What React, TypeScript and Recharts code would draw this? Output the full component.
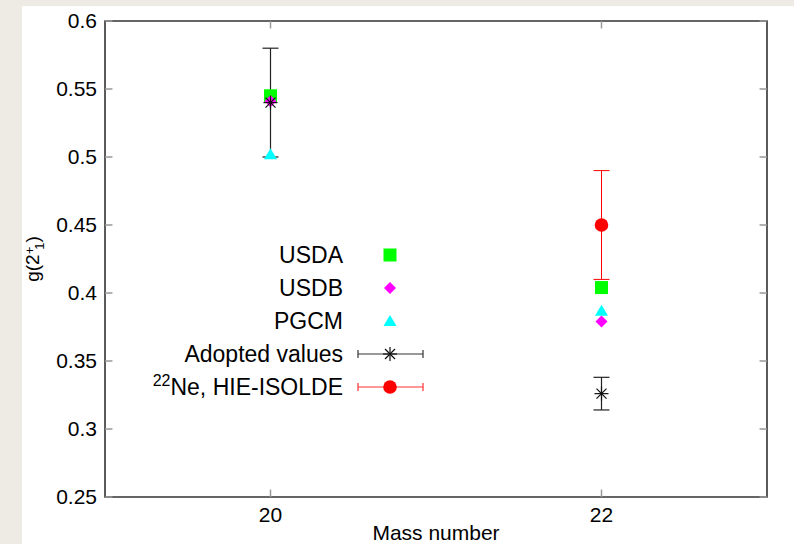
import React from 'react';
import {
  ComposedChart,
  ErrorBar,
  Legend,
  ReferenceArea,
  ReferenceLine,
  Scatter,
  XAxis,
  YAxis
} from 'recharts';

const FONT = '"Liberation Sans", Arial, Helvetica, sans-serif';

const massNumbers = [20, 22];
const usdaValues = [0.545, 0.404];
const usdbValues = [0.541, 0.379];
const pgcmValues = [0.502, 0.387];
const adoptedValues = [0.54, 0.326];
const adoptedErrors = [0.04, 0.012];
const hieMass = [22];
const hieValues = [0.45];
const hieErrors = [0.04];

const xTicks = [20, 22];
const yTicks = [0.25, 0.3, 0.35, 0.4, 0.45, 0.5, 0.55, 0.6];
const xDomain: [number, number] = [19, 23];
const yDomain: [number, number] = [0.25, 0.6];

const seriesNames = ['USDA', 'USDB', 'PGCM', 'Adopted values', '22Ne, HIE-ISOLDE'];

const toPoints = (xs: number[], ys: number[], errs?: number[]) =>
  xs.map((a, i) => ({ a, g: ys[i], err: errs ? errs[i] : 0 }));

const usdaData = toPoints(massNumbers, usdaValues);
const usdbData = toPoints(massNumbers, usdbValues);
const pgcmData = toPoints(massNumbers, pgcmValues);
const adoptedData = toPoints(massNumbers, adoptedValues, adoptedErrors);
const hieData = toPoints(hieMass, hieValues, hieErrors);

// inward tick marks, gnuplot style
const TX = 0.045;
const TY = 0.0055;

function Square({ cx, cy }: any) {
  return <rect x={cx - 6.5} y={cy - 6.5} width={13} height={13} fill="#00ff00" />;
}
function Diamond({ cx, cy }: any) {
  return <polygon points={`${cx},${cy - 6} ${cx + 6},${cy} ${cx},${cy + 6} ${cx - 6},${cy}`} fill="#ff00ff" />;
}
function Triangle({ cx, cy }: any) {
  return <polygon points={`${cx},${cy - 6} ${cx + 6.5},${cy + 5} ${cx - 6.5},${cy + 5}`} fill="#00ffff" />;
}
function Star({ cx, cy }: any) {
  const r = 7;
  const d = 5;
  return (
    <g stroke="#111" strokeWidth={1.2}>
      <line x1={cx - r} y1={cy} x2={cx + r} y2={cy} />
      <line x1={cx} y1={cy - r} x2={cx} y2={cy + r} />
      <line x1={cx - d} y1={cy - d} x2={cx + d} y2={cy + d} />
      <line x1={cx - d} y1={cy + d} x2={cx + d} y2={cy - d} />
    </g>
  );
}
function Dot({ cx, cy }: any) {
  return <circle cx={cx} cy={cy} r={6.8} fill="#ff0000" />;
}

const symbolFor: Record<string, any> = {
  USDA: Square,
  USDB: Diamond,
  PGCM: Triangle,
  'Adopted values': Star,
  '22Ne, HIE-ISOLDE': Dot
};

function LegendBox({ payload }: any) {
  const items = (payload || []).filter((p: any) => seriesNames.includes(p.value));
  items.sort((a: any, b: any) => seriesNames.indexOf(a.value) - seriesNames.indexOf(b.value));
  return (
    <svg width={440} height={175} style={{ display: 'block' }}>
      {items.map((p: any, i: number) => {
        const cy = 23 + i * 33;
        const Sym = symbolFor[p.value];
        const withBar = p.value === 'Adopted values' || p.value === '22Ne, HIE-ISOLDE';
        const col = p.value === '22Ne, HIE-ISOLDE' ? '#ff3030' : '#333';
        return (
          <g key={p.value}>
            {p.value === '22Ne, HIE-ISOLDE' ? (
              <text x={321} y={cy + 8} textAnchor="end" fontFamily={FONT} fontSize={23} fill="#000">
                <tspan fontSize={16} dy={-9}>22</tspan>
                <tspan dy={9}>Ne, HIE-ISOLDE</tspan>
              </text>
            ) : (
              <text x={321} y={cy + 8} textAnchor="end" fontFamily={FONT} fontSize={23} fill="#000">
                {p.value}
              </text>
            )}
            {withBar && (
              <g stroke={col} strokeWidth={1.2}>
                <line x1={336} y1={cy} x2={401} y2={cy} />
                <line x1={336} y1={cy - 4} x2={336} y2={cy + 4} />
                <line x1={401} y1={cy - 4} x2={401} y2={cy + 4} />
              </g>
            )}
            {Sym && <Sym cx={368} cy={cy} />}
          </g>
        );
      })}
    </svg>
  );
}

function YLabel({ viewBox }: any) {
  const x = (viewBox?.x ?? 0) + 17;
  const y = (viewBox?.y ?? 0) + (viewBox?.height ?? 0) / 2;
  return (
    <text x={x} y={y} transform={`rotate(-90, ${x}, ${y})`} textAnchor="middle" fontFamily={FONT} fontSize={19} fill="#000">
      <tspan>g(2</tspan>
      <tspan fontSize={13} dy={-5}>+</tspan>
      <tspan fontSize={13} dx={-3} dy={10}>1</tspan>
      <tspan dy={-5}>)</tspan>
    </text>
  );
}

export default function App() {
  return (
    <div style={{ position: 'fixed', left: 0, top: 0, width: 794, height: 544, background: '#eeebe5' }}>
      <div style={{ position: 'absolute', left: 22, top: 6, width: 772, height: 538, background: '#fff' }}>
        <ComposedChart width={772} height={538} margin={{ top: 15, right: 27, bottom: 0, left: 0 }}>
          <XAxis
            dataKey="a"
            type="number"
            domain={xDomain}
            ticks={xTicks}
            interval={0}
            allowDataOverflow
            axisLine={false}
            tickLine={false}
            tickSize={0}
            tickMargin={10}
            height={47}
            tick={{ fontSize: 21, fill: '#000', fontFamily: FONT }}
            label={{ value: 'Mass number', position: 'insideBottom', offset: 4, fontSize: 21, fill: '#000', fontFamily: FONT }}
          />
          <YAxis
            type="number"
            domain={yDomain}
            ticks={yTicks}
            interval={0}
            allowDataOverflow
            axisLine={false}
            tickLine={false}
            tickSize={0}
            tickMargin={8}
            width={83}
            tick={{ fontSize: 21, fill: '#000', fontFamily: FONT }}
            label={{ content: (props: any) => <YLabel {...props} /> }}
          />
          {yTicks.map((v) => (
            <ReferenceLine key={`l${v}`} segment={[{ x: xDomain[0], y: v }, { x: xDomain[0] + TX, y: v }]} stroke="#999" strokeWidth={1.5} />
          ))}
          {yTicks.map((v) => (
            <ReferenceLine key={`r${v}`} segment={[{ x: xDomain[1] - TX, y: v }, { x: xDomain[1], y: v }]} stroke="#999" strokeWidth={1.5} />
          ))}
          {xTicks.map((v) => (
            <ReferenceLine key={`b${v}`} segment={[{ x: v, y: yDomain[0] }, { x: v, y: yDomain[0] + TY }]} stroke="#999" strokeWidth={1.5} />
          ))}
          {xTicks.map((v) => (
            <ReferenceLine key={`t${v}`} segment={[{ x: v, y: yDomain[1] - TY }, { x: v, y: yDomain[1] }]} stroke="#999" strokeWidth={1.5} />
          ))}
          <ReferenceArea x1={xDomain[0]} x2={xDomain[1]} y1={yDomain[0]} y2={yDomain[1]} fill="none" fillOpacity={0} stroke="#333" strokeWidth={1.6} />
          <Scatter name={seriesNames[0]} data={usdaData} dataKey="g" shape={Square} isAnimationActive={false} />
          <Scatter name={seriesNames[1]} data={usdbData} dataKey="g" shape={Diamond} isAnimationActive={false} />
          <Scatter name={seriesNames[2]} data={pgcmData} dataKey="g" shape={Triangle} isAnimationActive={false} />
          <Scatter name={seriesNames[3]} data={adoptedData} dataKey="g" shape={Star} isAnimationActive={false}>
            <ErrorBar dataKey="err" direction="y" width={8} stroke="#222" strokeWidth={1.2} />
          </Scatter>
          <Scatter name={seriesNames[4]} data={hieData} dataKey="g" shape={Dot} isAnimationActive={false}>
            <ErrorBar dataKey="err" direction="y" width={8} stroke="#ff0000" strokeWidth={1} />
          </Scatter>
          <Legend
            layout="vertical"
            align="center"
            verticalAlign="middle"
            content={(props: any) => <LegendBox {...props} />}
            wrapperStyle={{ position: 'absolute', left: 0, top: 226, width: 440, height: 175 }}
          />
        </ComposedChart>
      </div>
    </div>
  );
}
